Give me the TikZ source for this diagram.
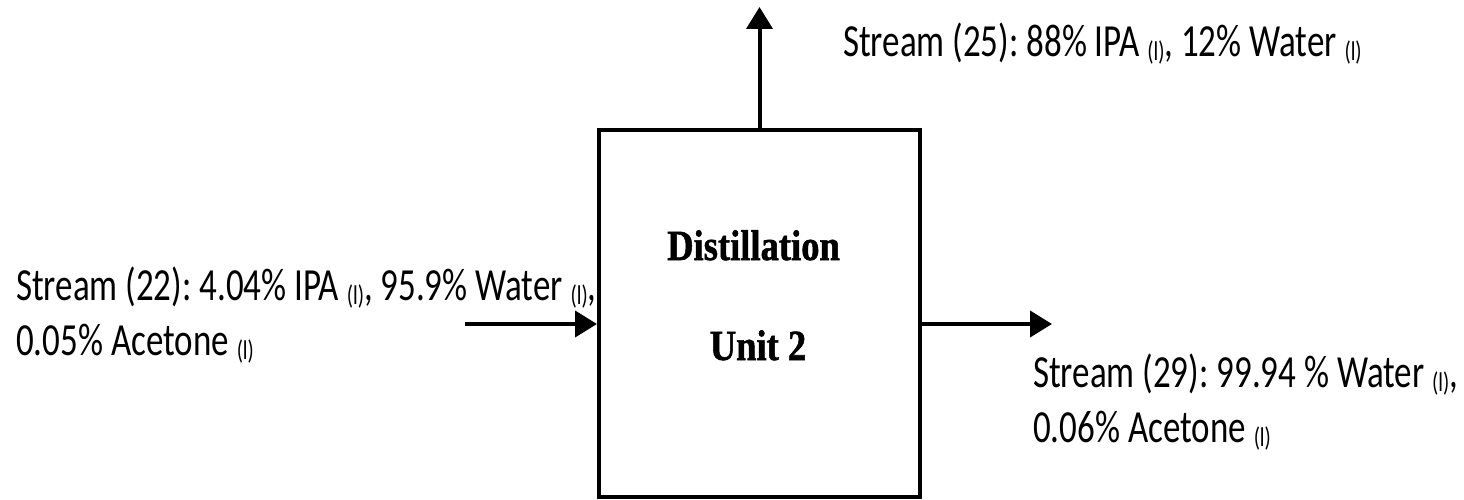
\documentclass[tikz,border=0pt]{standalone}
\usepackage{fontspec}
\usetikzlibrary{arrows.meta}
\newfontfamily\calfont[FakeStretch=0.76]{Carlito}
\newfontfamily\tnrfont[FakeStretch=0.85,FakeBold=1.2]{Liberation Serif}
\newcommand\liq{\raisebox{-4pt}{\fontsize{27}{27}\selectfont(l)}}
\frenchspacing
\begin{document}
\frenchspacing
\begin{tikzpicture}[x=1pt,y=-1pt,
  lbl/.style={anchor=base west, inner sep=0pt, font=\calfont\fontsize{46}{55}\selectfont},
  title/.style={anchor=base, inner sep=0pt, font=\tnrfont\bfseries\fontsize{43}{43}\selectfont},
  flow/.style={line width=4pt, -{Triangle[length=22pt,width=26pt]}},
  unitbox/.style={draw, line width=4pt, inner sep=0pt, minimum width=321pt, minimum height=367pt}]
\useasboundingbox (0,0) rectangle (1464,500);
\node[unitbox] (box) at (759.5,313.5) {};
\node[title] (t1) at (753.5,260) {Distillation};
\node[title] (t2) at (758,360) {Unit 2};
\coordinate (topend) at (759.5,7);
\coordinate (inlet) at (465,324);
\coordinate (outlet) at (1052,324);
\draw[flow] (box.north) -- (topend);
\draw[flow] (inlet) -- (inlet -| box.west);
\draw[flow] (box.east |- outlet) -- (outlet);
\node[lbl] (s25) at (843,57) {Stream (25): 88\% IPA \liq, 12\% Water \liq};
\node[lbl] (s22a) at (16,300) {Stream (22): 4.04\% IPA \liq, 95.9\% Water \liq,};
\node[lbl] (s22b) at (16,355) {0.05\% Acetone \liq};
\node[lbl] (s29a) at (1033,387) {Stream (29): 99.94 \% Water \liq,};
\node[lbl] (s29b) at (1033,442) {0.06\% Acetone \liq};
\end{tikzpicture}
\end{document}
